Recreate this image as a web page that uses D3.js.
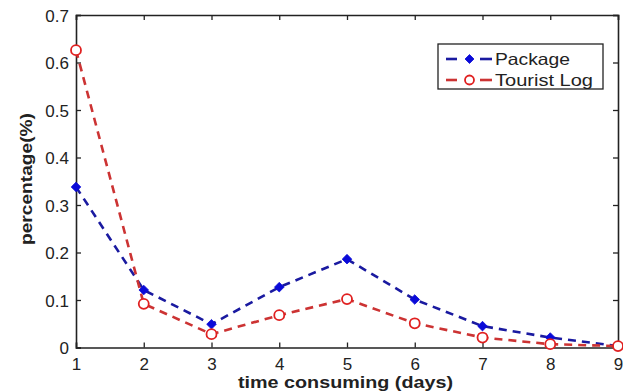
<!DOCTYPE html>
<html>
<head>
<meta charset="utf-8">
<script src="https://cdn.jsdelivr.net/npm/d3@7/dist/d3.min.js"></script>
<style>
  html, body { margin: 0; padding: 0; background: #fff; }
  svg { display: block; font-family: "Liberation Sans", Arial, sans-serif; }
</style>
</head>
<body>
<svg id="chart" width="623" height="391"></svg>
<script>
// Share of trips by duration (days)
const days = [1, 2, 3, 4, 5, 6, 7, 8, 9];
const packageValues = [0.338, 0.121, 0.049, 0.127, 0.186, 0.101, 0.045, 0.021, 0.003];
const touristLogValues = [0.626, 0.092, 0.028, 0.068, 0.102, 0.051, 0.021, 0.007, 0.003];
const yTicks = [0, 0.1, 0.2, 0.3, 0.4, 0.5, 0.6, 0.7];
const seriesNames = ["Package", "Tourist Log"];

const svg = d3.select("#chart");
const plotLeft = 76, plotRight = 618, plotTop = 15, plotBottom = 347.5;

const x = d3.scaleLinear().domain([1, 9]).range([plotLeft, plotRight]);
const y = d3.scaleLinear().domain([0, 0.7]).range([plotBottom, plotTop]);

const tickFmt = d => d === 0 ? "0" : d3.format(".1f")(d);

// Axes with inward ticks on all four sides
const gx = svg.append("g").attr("transform", `translate(0,${plotBottom})`)
  .call(d3.axisBottom(x).tickValues(days).tickSize(-5).tickPadding(10).tickFormat(d3.format("d")));
const gxTop = svg.append("g").attr("transform", `translate(0,${plotTop})`)
  .call(d3.axisTop(x).tickValues(days).tickSize(-5).tickFormat(""));
const gy = svg.append("g").attr("transform", `translate(${plotLeft},0)`)
  .call(d3.axisLeft(y).tickValues(yTicks).tickSize(-5).tickPadding(7).tickFormat(tickFmt));
const gyRight = svg.append("g").attr("transform", `translate(${plotRight},0)`)
  .call(d3.axisRight(y).tickValues(yTicks).tickSize(-5).tickFormat(""));

[gx, gxTop, gy, gyRight].forEach(g => {
  g.select(".domain").attr("stroke", "#222").attr("stroke-width", 1.6);
  g.selectAll(".tick line").attr("stroke", "#222").attr("stroke-width", 1.3);
  g.selectAll(".tick text").attr("fill", "#222").style("font-size", "17px")
    .style("font-family", "\"Liberation Sans\", Arial, sans-serif");
});
gy.selectAll(".tick text").attr("dy", "0.38em");

// Axis titles
svg.append("text")
  .attr("x", 345.5).attr("y", 388)
  .attr("text-anchor", "middle")
  .attr("textLength", 215).attr("lengthAdjust", "spacingAndGlyphs")
  .style("font-size", "16px").style("font-weight", "bold").attr("fill", "#222")
  .text("time consuming (days)");
svg.append("text")
  .attr("transform", "translate(31.5,179) rotate(-90)")
  .attr("text-anchor", "middle")
  .attr("textLength", 132).attr("lengthAdjust", "spacingAndGlyphs")
  .style("font-size", "16px").style("font-weight", "bold").attr("fill", "#222")
  .text("percentage(%)");

const lineColors = ["#1a1aa0", "#cc3333"];
const markerColors = ["#0a0ad8", "#e02020"];
const line = d3.line().x((d, i) => x(days[i])).y(d => y(d));

// Filled diamond, a square turned 45 degrees
const diamond = r => `M0,${-r}L${r},0L0,${r}L${-r},0Z`;

const series = [packageValues, touristLogValues];
series.forEach((vals, si) => {
  svg.append("path")
    .datum(vals)
    .attr("fill", "none")
    .attr("stroke", lineColors[si])
    .attr("stroke-width", 2.6)
    .attr("stroke-dasharray", "8,6")
    .attr("d", line);
});

// Markers
svg.append("g").selectAll("path")
  .data(packageValues)
  .join("path")
  .attr("transform", (d, i) => `translate(${x(days[i])},${y(d)})`)
  .attr("d", diamond(4.8))
  .attr("fill", markerColors[0])
  .attr("stroke", markerColors[0])
  .attr("stroke-width", 0.8);

svg.append("g").selectAll("circle")
  .data(touristLogValues)
  .join("circle")
  .attr("cx", (d, i) => x(days[i]))
  .attr("cy", d => y(d))
  .attr("r", 5)
  .attr("fill", "#fff")
  .attr("stroke", markerColors[1])
  .attr("stroke-width", 1.8);

// Legend
const legend = svg.append("g");
legend.append("rect")
  .attr("x", 438).attr("y", 44).attr("width", 165).attr("height", 45)
  .attr("fill", "#fff").attr("stroke", "#222").attr("stroke-width", 1.3);

const legendTextLen = [75, 98];
seriesNames.forEach((name, i) => {
  const ly = 59 + i * 21;
  [[446, 457], [480, 492]].forEach(([a, b]) => {
    legend.append("line")
      .attr("x1", a).attr("x2", b).attr("y1", ly).attr("y2", ly)
      .attr("stroke", lineColors[i]).attr("stroke-width", 2.6);
  });
  if (i === 0) {
    legend.append("path")
      .attr("transform", `translate(469.5,${ly})`)
      .attr("d", diamond(4.5))
      .attr("fill", markerColors[0]).attr("stroke", markerColors[0]).attr("stroke-width", 0.8);
  } else {
    legend.append("circle")
      .attr("cx", 469.5).attr("cy", ly).attr("r", 4.5)
      .attr("fill", "none").attr("stroke", markerColors[1]).attr("stroke-width", 1.8);
  }
  legend.append("text")
    .attr("x", 495).attr("y", ly).attr("dy", "0.36em")
    .attr("textLength", legendTextLen[i]).attr("lengthAdjust", "spacingAndGlyphs")
    .style("font-size", "16.5px").attr("fill", "#222")
    .text(name);
});
</script>
</body>
</html>
